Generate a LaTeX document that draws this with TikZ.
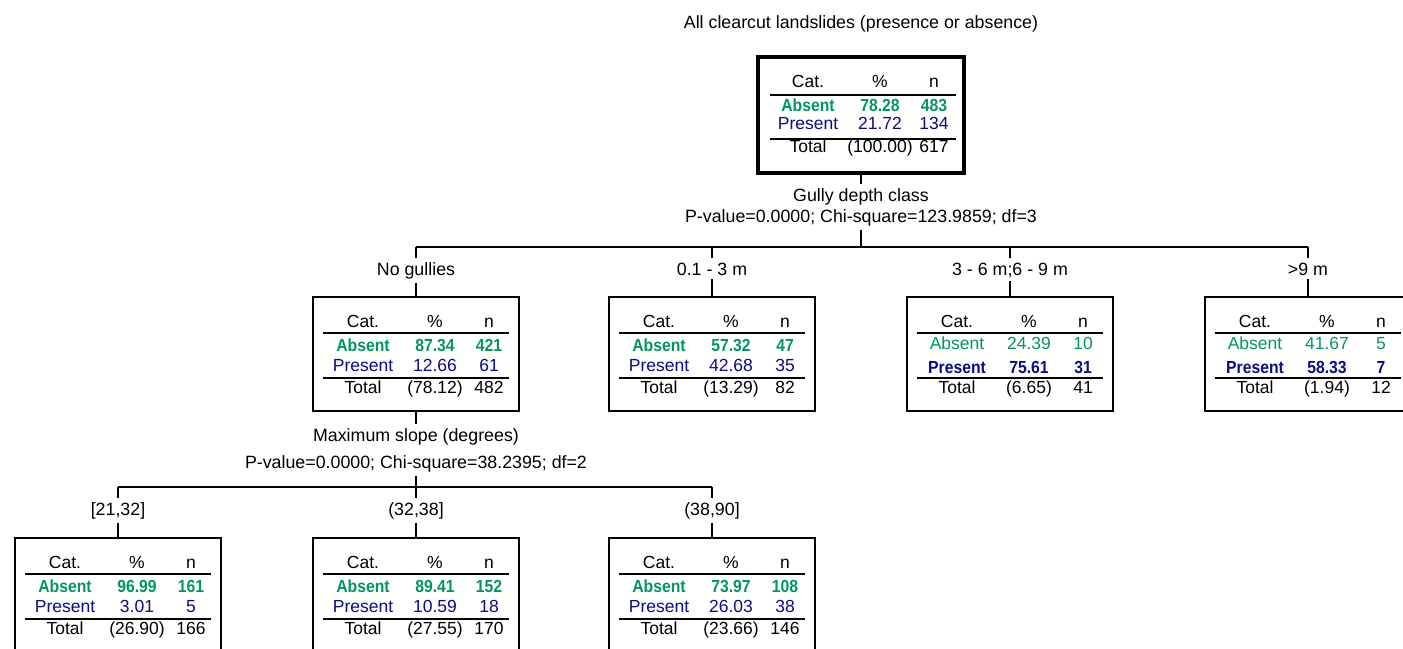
\documentclass[tikz,border=0pt]{standalone}
\usepackage{fontspec}
\usepackage{graphicx}
\setmainfont{Liberation Sans}
\usetikzlibrary{calc}

\definecolor{absgreen}{RGB}{0,150,100}
\definecolor{presblue}{RGB}{10,10,140}

% condensed bold used for the majority category
\newcommand\tightbf[1]{\scalebox{0.9}[1]{\bfseries #1}}

\tikzset{
  lbl/.style={font=\fontsize{17.8}{21}\selectfont, inner sep=4pt, anchor=base},
  cell/.style={font=\fontsize{17.5}{21}\selectfont, inner sep=0pt, anchor=base},
  tbox/.style={draw, line width=2pt, minimum width=206pt, minimum height=114pt,
    inner sep=0pt, outer sep=0pt, anchor=north},
  rootbox/.style={tbox, line width=4pt, minimum height=116pt},
  rule/.style={line width=2pt},
  link/.style={line width=2pt},
  grn/.style={text=absgreen},
  blu/.style={text=presblue},
}

% one row of a category table: box, tag, baseline offset, style, three cells
\newcommand\cellrow[7]{%
  \node[cell,#4] (#1-#2-a) at ($(#1.north west)+(50,#3)$) {#5};
  \node[cell,#4] (#1-#2-b) at ($(#1.north west)+(122,#3)$) {#6};
  \node[cell,#4] (#1-#2-c) at ($(#1.north west)+(176,#3)$) {#7};
}
% table header, rules and total row
\newcommand\tableframe[4]{%
  \cellrow{#1}{hd}{30}{}{Cat.}{\%}{n}
  \draw[rule] ($(#1.north west)+(10,#2)$) -- ($(#1.north west)+(196,#2)$);
  \draw[rule] ($(#1.north west)+(10,#3)$) -- ($(#1.north west)+(196,#3)$);
  \cellrow{#1}{tot}{96}{}{Total}{#4}{}
}

\begin{document}
\begin{tikzpicture}[x=1pt,y=-1pt]
\useasboundingbox (0,0) rectangle (1403,648);
\clip (0,0) rectangle (1403,648);

% root
\node[lbl] (title) at (861,28) {All clearcut landslides (presence or absence)};
\node[rootbox] (root) at (861,57) {};
\cellrow{root}{hd}{30}{}{Cat.}{\%}{n}
\draw[rule] ($(root.north west)+(12,38)$) -- ($(root.north west)+(198,38)$);
\draw[rule] ($(root.north west)+(12,82)$) -- ($(root.north west)+(198,82)$);
\cellrow{root}{abs}{54}{grn}{\tightbf{Absent}}{\tightbf{78.28}}{\tightbf{483}}
\cellrow{root}{pre}{72}{blu}{Present}{21.72}{134}
\cellrow{root}{tot}{95}{}{Total}{(100.00)}{617}

% first split
\node[lbl] (sa) at (861,201) {Gully depth class};
\node[lbl] (sb) at (861,222) {P-value=0.0000; Chi-square=123.9859; df=3};
\coordinate (bus1) at (861,247);
\coordinate (k1) at (416,247);
\coordinate (k2) at (712,247);
\coordinate (k3) at (1010,247);
\coordinate (k4) at (1308,247);
\draw[link] (root.south) -- (sa.north);
\draw[link] (sb.south) -- (bus1);
\draw[link] (k1) -- (k4);

\node[lbl] (l1) at (416,275) {No gullies};
\node[lbl] (l2) at (712,275) {0.1 - 3 m};
\node[lbl] (l3) at (1010,275) {3 - 6 m;6 - 9 m};
\node[lbl] (l4) at (1308,275) {>9 m};

\node[tbox] (b1) at (416,297) {};
\node[tbox] (b2) at (712,297) {};
\node[tbox] (b3) at (1010,297) {};
\node[tbox] (b4) at (1308,297) {};

\foreach \i in {1,2,3,4} {
  \draw[link] (k\i) -- (l\i.north);
  \draw[link] (l\i.south) -- (b\i.north);
}

\tableframe{b1}{36}{81}{(78.12)}
\node[cell] at (b1-tot-c) {482};
\cellrow{b1}{abs}{54}{grn}{\tightbf{Absent}}{\tightbf{87.34}}{\tightbf{421}}
\cellrow{b1}{pre}{74}{blu}{Present}{12.66}{61}

\tableframe{b2}{36}{81}{(13.29)}
\node[cell] at (b2-tot-c) {82};
\cellrow{b2}{abs}{54}{grn}{\tightbf{Absent}}{\tightbf{57.32}}{\tightbf{47}}
\cellrow{b2}{pre}{74}{blu}{Present}{42.68}{35}

\tableframe{b3}{36}{81}{(6.65)}
\node[cell] at (b3-tot-c) {41};
\cellrow{b3}{abs}{52}{grn}{Absent}{24.39}{10}
\cellrow{b3}{pre}{76}{blu}{\tightbf{Present}}{\tightbf{75.61}}{\tightbf{31}}

\tableframe{b4}{36}{81}{(1.94)}
\node[cell] at (b4-tot-c) {12};
\cellrow{b4}{abs}{52}{grn}{Absent}{41.67}{5}
\cellrow{b4}{pre}{76}{blu}{\tightbf{Present}}{\tightbf{58.33}}{\tightbf{7}}

% second split
\node[lbl] (ma) at (416,441) {Maximum slope (degrees)};
\node[lbl] (mb) at (416,468) {P-value=0.0000; Chi-square=38.2395; df=2};
\coordinate (bus2) at (416,487);
\coordinate (j1) at (118,487);
\coordinate (j2) at (416,487);
\coordinate (j3) at (712,487);
\draw[link] (b1.south) -- (ma.north);
\draw[link] (mb.south) -- (bus2);
\draw[link] (j1) -- (j3);

\node[lbl] (m1) at (118,515) {[21,32]};
\node[lbl] (m2) at (416,515) {(32,38]};
\node[lbl] (m3) at (712,515) {(38,90]};

\node[tbox] (c1) at (118,538) {};
\node[tbox] (c2) at (416,538) {};
\node[tbox] (c3) at (712,538) {};

\foreach \i in {1,2,3} {
  \draw[link] (j\i) -- (m\i.north);
  \draw[link] (m\i.south) -- (c\i.north);
}

\tableframe{c1}{36}{81}{(26.90)}
\node[cell] at (c1-tot-c) {166};
\cellrow{c1}{abs}{54}{grn}{\tightbf{Absent}}{\tightbf{96.99}}{\tightbf{161}}
\cellrow{c1}{pre}{74}{blu}{Present}{3.01}{5}

\tableframe{c2}{36}{81}{(27.55)}
\node[cell] at (c2-tot-c) {170};
\cellrow{c2}{abs}{54}{grn}{\tightbf{Absent}}{\tightbf{89.41}}{\tightbf{152}}
\cellrow{c2}{pre}{74}{blu}{Present}{10.59}{18}

\tableframe{c3}{36}{81}{(23.66)}
\node[cell] at (c3-tot-c) {146};
\cellrow{c3}{abs}{54}{grn}{\tightbf{Absent}}{\tightbf{73.97}}{\tightbf{108}}
\cellrow{c3}{pre}{74}{blu}{Present}{26.03}{38}
\end{tikzpicture}
\end{document}
